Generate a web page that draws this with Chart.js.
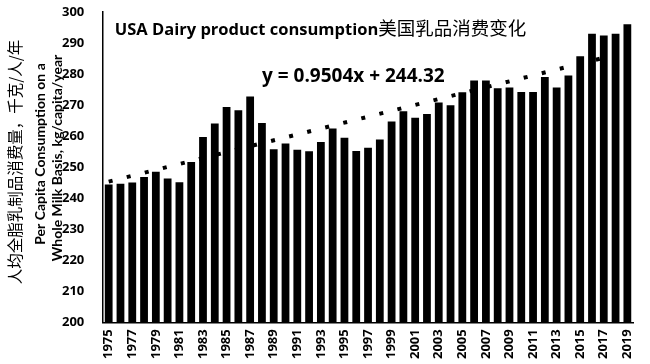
<!DOCTYPE html>
<html>
<head>
<meta charset="utf-8">
<script src="https://cdn.jsdelivr.net/npm/chart.js@4/dist/chart.umd.min.js"></script>
<style>
  html, body { margin: 0; padding: 0; background: #fff; }
  #wrap { width: 650px; height: 364px; position: relative; }
</style>
</head>
<body>
<div id="wrap"><canvas id="chartDairy"></canvas></div>
<script>
const years = [];
for (let y = 1975; y <= 2019; y++) years.push(String(y));

// kg/capita/year
const consumption = [
    244.4, 244.6, 245.0, 246.8, 248.5, 246.3, 245.1, 251.6, 259.7, 264.0,
    269.3, 268.3, 272.7, 264.2, 255.7, 257.6, 255.6, 255.1, 258.1, 262.4,
    259.4, 255.2, 256.2, 258.9, 264.7, 268.0, 265.9, 267.1, 270.8, 269.9,
    274.1, 277.9, 277.9, 275.4, 275.6, 274.2, 274.2, 279.0, 275.6, 279.5,
    285.7, 292.9, 292.4, 292.9, 296.0
];

// linear trend, ends of the line (1975 and 2019)
const trendEnds = [245.3, 287.1];

const yTicks = [200, 210, 220, 230, 240, 250, 260, 270, 280, 290, 300];

const chartTitle = "USA Dairy product consumption";
const chartTitleCn = "美国乳品消费变化";
const equation = "y = 0.9504x + 244.32";
const yTitleLines = [
    "人均全脂乳制品消费量，千克/人/年",
    "Per Capita Consumption on a",
    "Whole Milk Basis, kg/capita/year"
];

const trendData = years.map((_, i) => i === 0 ? trendEnds[0] : (i === years.length - 1 ? trendEnds[1] : null));

const textPlugin = {
    id: "textPlugin",
    afterDraw(chart) {
        const ctx = chart.ctx;
        const area = chart.chartArea;
        ctx.save();
        ctx.fillStyle = "#000";
        ctx.textBaseline = "alphabetic";

        // title inside plot
        ctx.textAlign = "left";
        ctx.font = "bold 16.5px 'Open Sans'";
        const tx = area.left + 12;
        ctx.fillText(chartTitle, tx, 35);
        const w = ctx.measureText(chartTitle).width;
        ctx.font = "18.5px 'Noto Sans CJK SC'";
        ctx.fillText(chartTitleCn, tx + w, 35);

        // equation
        ctx.font = "bold 19px 'Open Sans'";
        ctx.fillText(equation, 262, 82);

        // y axis title, rotated
        ctx.textAlign = "center";
        ctx.textBaseline = "middle";
        const xs = [15, 40, 57];
        const ys = [162, 154, 158];
        const fonts = ["15.5px 'Noto Sans CJK SC'", "bold 14px Lato", "bold 14px Lato"];
        yTitleLines.forEach((t, i) => {
            ctx.save();
            ctx.translate(xs[i], ys[i]);
            ctx.rotate(-Math.PI / 2);
            ctx.font = fonts[i];
            ctx.fillText(t, 0, 0);
            ctx.restore();
        });
        ctx.restore();
    }
};

const canvas = document.getElementById("chartDairy");
new Chart(canvas, {
    type: "bar",
    data: {
        labels: years,
        datasets: [
            {
                type: "line",
                label: "Linear trend",
                data: trendData,
                spanGaps: true,
                borderColor: "#000",
                borderWidth: 4,
                borderDash: [4, 14.6],
                borderCapStyle: "butt",
                pointRadius: 0,
                fill: false,
                order: 0
            },
            {
                label: "Consumption",
                data: consumption,
                backgroundColor: "#000",
                barPercentage: 0.66,
                categoryPercentage: 1.0,
                order: 1
            }
        ]
    },
    options: {
        responsive: true,
        maintainAspectRatio: false,
        animation: false,
        layout: { padding: { left: 62, right: 4, top: 0, bottom: -2 } },
        plugins: {
            legend: { display: false },
            tooltip: { enabled: false }
        },
        scales: {
            x: {
                grid: { display: false, drawTicks: false },
                border: { display: true, color: "#000", width: 1.5 },
                ticks: {
                    autoSkip: false,
                    minRotation: 90,
                    maxRotation: 90,
                    padding: 7,
                    color: "#000",
                    font: { family: "'Open Sans'", weight: "bold", size: 13 },
                    callback: (v, i) => i % 2 === 0 ? years[i] : ""
                }
            },
            y: {
                min: yTicks[0],
                max: yTicks[yTicks.length - 1],
                grid: { display: false, drawTicks: false },
                border: { display: true, color: "#000", width: 1.5 },
                afterBuildTicks: axis => { axis.ticks = yTicks.map(v => ({ value: v })); },
                // extra room between the tick labels and the axis line
                afterFit: axis => { axis.width += 10.5; },
                ticks: {
                    padding: 4,
                    crossAlign: "far",
                    color: "#000",
                    font: { family: "'Open Sans'", weight: "bold", size: 13 }
                }
            }
        }
    },
    plugins: [textPlugin]
});
</script>
</body>
</html>
